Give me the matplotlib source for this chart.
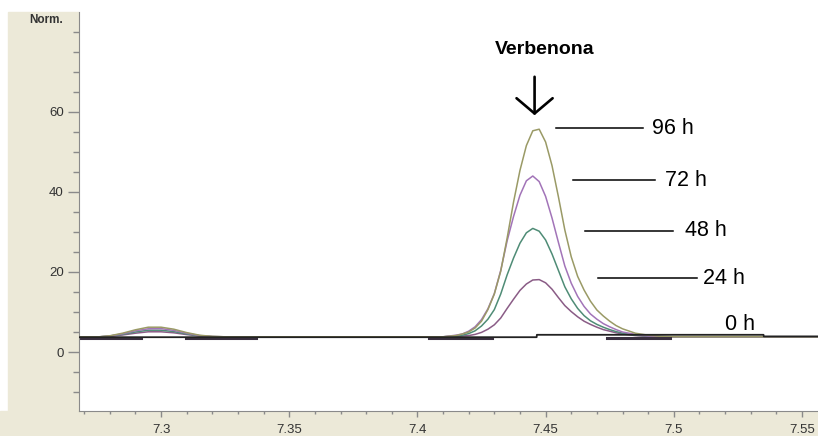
import matplotlib.pyplot as plt
from matplotlib.patches import Rectangle
from matplotlib.ticker import FixedLocator

plt.rcParams['font.family'] = ['Liberation Sans', 'DejaVu Sans']

# retention time grid (min) shared by the four traces
rt = [7.268, 7.276, 7.28, 7.285, 7.29, 7.295, 7.30, 7.305, 7.31, 7.315, 7.32, 7.325,
      7.36, 7.41,
      7.415, 7.4175, 7.42, 7.4225, 7.425, 7.4275, 7.43, 7.4325, 7.435, 7.4375,
      7.44, 7.4425, 7.445, 7.4475, 7.45, 7.4525, 7.455, 7.4575, 7.46, 7.4625,
      7.465, 7.4675, 7.47, 7.4725, 7.475, 7.4775, 7.48,
      7.485, 7.49, 7.495, 7.50,
      7.53, 7.556]

y_96h = [3.8, 3.8, 4.05, 4.7, 5.55, 6.2, 6.2, 5.7, 4.85, 4.2, 3.9, 3.8,
         3.8, 3.8,
         4.1, 4.5, 5.0, 6.0, 7.7, 10.6, 14.5, 20.2, 28.5, 37.5, 45.4, 51.6, 55.3,
         55.7, 52.5, 46.6, 38.8, 30.5, 23.8, 18.9, 15.5, 12.7, 10.5, 9.0, 7.7,
         6.6, 5.8,
         4.7, 4.2, 3.9, 3.8,
         3.8, 3.8]
y_72h = [3.8, 3.8, 4.0, 4.55, 5.3, 5.8, 5.85, 5.4, 4.7, 4.1, 3.85, 3.8,
         3.8, 3.8,
         4.2, 4.5, 5.2, 6.3, 8.1, 10.8, 14.6, 20.4, 27.8, 33.9, 39.2, 42.8, 44.0,
         42.6, 38.9, 33.5, 27.4, 21.5, 17.2, 13.9, 11.4, 9.5, 8.2, 7.1, 6.3,
         5.6, 5.0,
         4.4, 4.0, 3.85, 3.8,
         3.8, 3.8]
y_48h = [3.8, 3.8, 4.0, 4.4, 5.0, 5.45, 5.45, 5.1, 4.5, 4.05, 3.85, 3.8,
         3.8, 3.8,
         4.0, 4.2, 4.6, 5.3, 6.5, 8.2, 10.6, 14.5, 19.3, 23.5, 27.2, 29.8, 30.9,
         30.2, 28.0, 24.5, 20.4, 16.3, 13.3, 10.9, 9.1, 7.8, 6.9, 6.2, 5.6,
         5.1, 4.7,
         4.2, 4.0, 3.85, 3.8,
         3.8, 3.8]
y_24h = [3.8, 3.8, 3.9, 4.25, 4.7, 5.05, 5.05, 4.8, 4.35, 4.0, 3.85, 3.8,
         3.8, 3.8,
         3.9, 4.0, 4.1, 4.4, 4.9, 5.7, 6.8, 8.5, 10.9, 13.2, 15.4, 17.0, 18.0,
         18.1, 17.3, 15.7, 13.6, 11.6, 10.1, 8.8, 7.7, 6.9, 6.2, 5.6, 5.2,
         4.8, 4.5,
         4.1, 3.9, 3.85, 3.8,
         3.8, 3.8]

# 0 h trace is flat (no verbenone)
rt_0h = [7.268, 7.4465, 7.4466, 7.535, 7.5351, 7.556]
y_0h = [3.7, 3.7, 4.3, 4.3, 3.9, 3.9]

# integration baseline marks drawn by the software
mark_start = [7.2688, 7.3098, 7.4047, 7.4738]
mark_end = [7.2922, 7.3371, 7.4289, 7.4984]
mark_level = 3.6

labels = ['96 h', '72 h', '48 h', '24 h', '0 h']
series = [y_96h, y_72h, y_48h, y_24h]
colors = ['#9a9a66', '#a274b8', '#4f8c76', '#8a5c86']

# leader line positions (rt start, rt end, level) and text x
leader_x0 = [7.4539, 7.4605, 7.4652, 7.4703]
leader_x1 = [7.4879, 7.4926, 7.4996, 7.5090]
leader_y = [55.9, 43.0, 30.25, 18.5]
label_x = [7.4914, 7.4965, 7.5043, 7.5113, 7.5199]
label_y = [55.9, 43.0, 30.25, 18.5, 7.0]

fig = plt.figure(figsize=(8.18, 4.36), dpi=100, facecolor='white')
beige = '#ECE9D8'
fig.patches.append(Rectangle((8 / 818, 0), (79 - 8) / 818, 424 / 436,
                             transform=fig.transFigure, color=beige, zorder=-10))
fig.patches.append(Rectangle((0, 0), 1, 25 / 436,
                             transform=fig.transFigure, color=beige, zorder=-10))

ax = fig.add_axes([79 / 818, 25 / 436, 1 - 79 / 818, 411 / 436])
ax.set_facecolor('white')
ax.set_xlim(7.268, 7.55625)
ax.set_ylim(-14.75, 88)

for s, c in zip(series[::-1], colors[::-1]):
    ax.plot(rt, s, color=c, lw=1.1, zorder=2)
ax.plot(rt_0h, y_0h, color='#222222', lw=1.3, zorder=3)
for a, b in zip(mark_start, mark_end):
    ax.plot([a, b], [mark_level, mark_level], color='#3a3040', lw=2.2, zorder=2)

# leader lines and labels
for x0, x1, yl in zip(leader_x0, leader_x1, leader_y):
    ax.plot([x0, x1], [yl, yl], color='black', lw=1.1)
for lx, ly, t in zip(label_x, label_y, labels):
    ax.text(lx, ly, t, fontsize=15.5, va='center', ha='left', color='black')

ax.annotate('', xy=(7.4457, 58.5), xytext=(7.4457, 69.5),
            arrowprops=dict(arrowstyle='->,head_length=0.55,head_width=0.65',
                            lw=1.9, color='black', mutation_scale=20))
ax.text(7.4496, 75.75, 'Verbenona', fontsize=14, fontweight='bold',
        ha='center', va='center')

# axes styling
for side in ['top', 'right']:
    ax.spines[side].set_visible(False)
for side in ['left', 'bottom']:
    ax.spines[side].set_color('#8a8a8a')
ax.spines['left'].set_bounds(-14.75, 85)

ax.set_yticks([0, 20, 40, 60])
ax.yaxis.set_minor_locator(FixedLocator([-10, -5, 5, 10, 15, 25, 30, 35, 45, 50, 55, 65, 70, 75, 80]))
ax.set_xticks([7.30, 7.35, 7.40, 7.45, 7.50, 7.55])
ax.set_xticklabels(['7.3', '7.35', '7.4', '7.45', '7.5', '7.55'])
ax.xaxis.set_minor_locator(FixedLocator([7.27 + 0.01 * i for i in range(29)]))

ax.tick_params(axis='y', which='major', length=8, width=1, color='#8a8a8a',
               labelsize=9.5, labelcolor='#333333', pad=3)
ax.tick_params(axis='y', which='minor', length=4, width=1, color='#8a8a8a')
ax.tick_params(axis='x', which='major', length=4, width=1, color='#8a8a8a',
               labelsize=9.5, labelcolor='#333333', pad=5)
ax.tick_params(axis='x', which='minor', length=2.5, width=1, color='#8a8a8a')

fig.text(46 / 818, 1 - 20 / 436, 'Norm.', fontsize=8.5, fontweight='bold',
         color='#333333', ha='center', va='center')

fig.savefig('out.png', dpi=100, facecolor=fig.get_facecolor())
